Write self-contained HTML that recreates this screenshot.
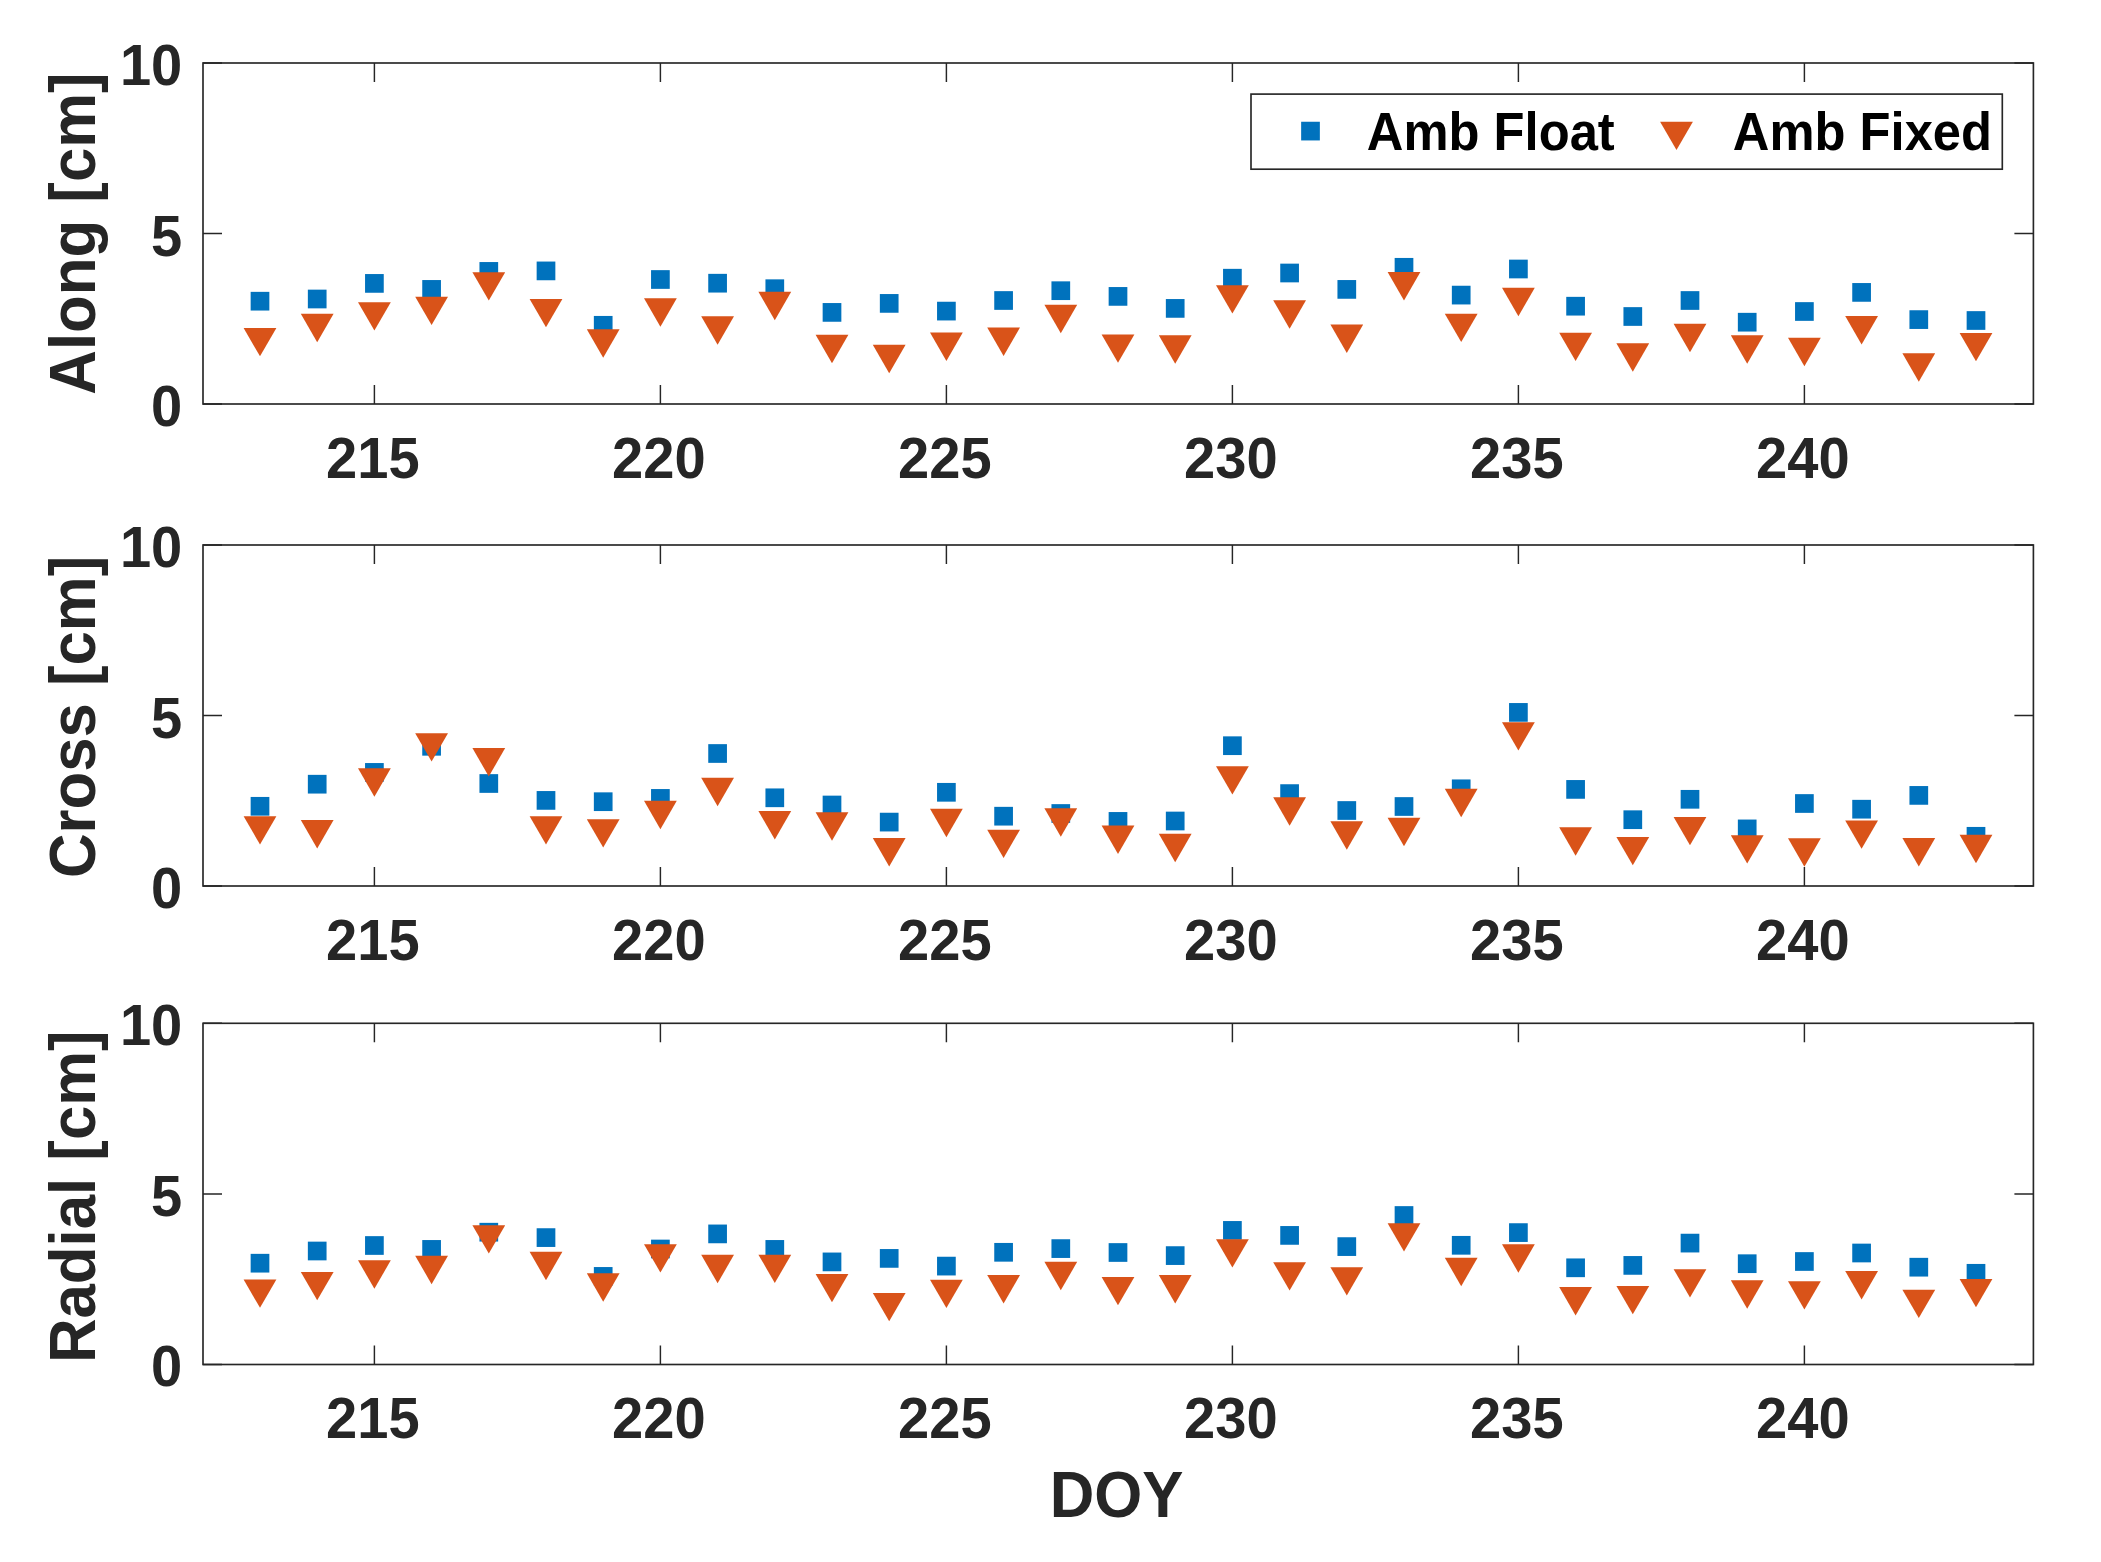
<!DOCTYPE html>
<html lang="en"><head><meta charset="utf-8"><title>Orbit differences: Amb Float vs Amb Fixed</title>
<style>
html,body{margin:0;padding:0;background:#fff;}
body{width:2101px;height:1562px;overflow:hidden;}
svg{display:block;}
text{font-family:"Liberation Sans",sans-serif;font-weight:bold;}
.t{font-size:57.60px;fill:#262626;}
.l{font-size:64.17px;fill:#262626;}
.g{font-size:52.90px;fill:#000;}
.ax{stroke:#262626;stroke-width:1.65;fill:none;shape-rendering:auto;}
.tk{stroke-width:1.45;}
.b{fill:#0072BD;}
.o{fill:#D95319;}
</style></head><body>
<svg width="2101" height="1562" viewBox="0 0 2101 1562">
<rect x="0" y="0" width="2101" height="1562" fill="#fff"/>
<g id="panel1">
<rect class="ax" x="203.00" y="63.00" width="1830.40" height="341.00"/>
<path class="ax tk" d="M374.40 404.00V385.00M374.40 63.00V82.00M660.40 404.00V385.00M660.40 63.00V82.00M946.40 404.00V385.00M946.40 63.00V82.00M1232.40 404.00V385.00M1232.40 63.00V82.00M1518.40 404.00V385.00M1518.40 63.00V82.00M1804.40 404.00V385.00M1804.40 63.00V82.00M203.00 404.00H222.00M2033.40 404.00H2014.40M203.00 233.50H222.00M2033.40 233.50H2014.40M203.00 63.00H222.00M2033.40 63.00H2014.40"/>
<g class="b">
<rect x="250.65" y="291.85" width="18.70" height="18.70"/>
<rect x="307.85" y="289.65" width="18.70" height="18.70"/>
<rect x="365.05" y="274.05" width="18.70" height="18.70"/>
<rect x="422.25" y="280.05" width="18.70" height="18.70"/>
<rect x="479.45" y="262.05" width="18.70" height="18.70"/>
<rect x="536.65" y="261.55" width="18.70" height="18.70"/>
<rect x="593.85" y="315.95" width="18.70" height="18.70"/>
<rect x="651.05" y="270.15" width="18.70" height="18.70"/>
<rect x="708.25" y="273.85" width="18.70" height="18.70"/>
<rect x="765.45" y="279.35" width="18.70" height="18.70"/>
<rect x="822.65" y="303.05" width="18.70" height="18.70"/>
<rect x="879.85" y="294.05" width="18.70" height="18.70"/>
<rect x="937.05" y="301.75" width="18.70" height="18.70"/>
<rect x="994.25" y="291.15" width="18.70" height="18.70"/>
<rect x="1051.45" y="281.35" width="18.70" height="18.70"/>
<rect x="1108.65" y="287.05" width="18.70" height="18.70"/>
<rect x="1165.85" y="299.05" width="18.70" height="18.70"/>
<rect x="1223.05" y="268.85" width="18.70" height="18.70"/>
<rect x="1280.25" y="263.65" width="18.70" height="18.70"/>
<rect x="1337.45" y="280.05" width="18.70" height="18.70"/>
<rect x="1394.65" y="257.95" width="18.70" height="18.70"/>
<rect x="1451.85" y="285.75" width="18.70" height="18.70"/>
<rect x="1509.05" y="259.65" width="18.70" height="18.70"/>
<rect x="1566.25" y="296.85" width="18.70" height="18.70"/>
<rect x="1623.45" y="307.15" width="18.70" height="18.70"/>
<rect x="1680.65" y="291.15" width="18.70" height="18.70"/>
<rect x="1737.85" y="312.85" width="18.70" height="18.70"/>
<rect x="1795.05" y="302.15" width="18.70" height="18.70"/>
<rect x="1852.25" y="283.05" width="18.70" height="18.70"/>
<rect x="1909.45" y="310.25" width="18.70" height="18.70"/>
<rect x="1966.65" y="311.15" width="18.70" height="18.70"/>
</g>
<g class="o">
<path d="M243.60 327.93h32.80l-16.40 28.40z"/>
<path d="M300.80 313.83h32.80l-16.40 28.40z"/>
<path d="M358.00 302.13h32.80l-16.40 28.40z"/>
<path d="M415.20 296.63h32.80l-16.40 28.40z"/>
<path d="M472.40 272.13h32.80l-16.40 28.40z"/>
<path d="M529.60 298.93h32.80l-16.40 28.40z"/>
<path d="M586.80 329.33h32.80l-16.40 28.40z"/>
<path d="M644.00 298.33h32.80l-16.40 28.40z"/>
<path d="M701.20 316.33h32.80l-16.40 28.40z"/>
<path d="M758.40 291.83h32.80l-16.40 28.40z"/>
<path d="M815.60 334.73h32.80l-16.40 28.40z"/>
<path d="M872.80 344.83h32.80l-16.40 28.40z"/>
<path d="M930.00 332.53h32.80l-16.40 28.40z"/>
<path d="M987.20 327.53h32.80l-16.40 28.40z"/>
<path d="M1044.40 304.73h32.80l-16.40 28.40z"/>
<path d="M1101.60 334.43h32.80l-16.40 28.40z"/>
<path d="M1158.80 335.33h32.80l-16.40 28.40z"/>
<path d="M1216.00 285.13h32.80l-16.40 28.40z"/>
<path d="M1273.20 300.23h32.80l-16.40 28.40z"/>
<path d="M1330.40 324.53h32.80l-16.40 28.40z"/>
<path d="M1387.60 272.03h32.80l-16.40 28.40z"/>
<path d="M1444.80 313.63h32.80l-16.40 28.40z"/>
<path d="M1502.00 287.83h32.80l-16.40 28.40z"/>
<path d="M1559.20 332.63h32.80l-16.40 28.40z"/>
<path d="M1616.40 343.23h32.80l-16.40 28.40z"/>
<path d="M1673.60 323.73h32.80l-16.40 28.40z"/>
<path d="M1730.80 335.33h32.80l-16.40 28.40z"/>
<path d="M1788.00 337.73h32.80l-16.40 28.40z"/>
<path d="M1845.20 316.03h32.80l-16.40 28.40z"/>
<path d="M1902.40 353.23h32.80l-16.40 28.40z"/>
<path d="M1959.60 332.93h32.80l-16.40 28.40z"/>
</g>
<text class="t" text-anchor="end" transform="translate(182.30 426.00) scale(0.9740 1)">0</text>
<text class="t" text-anchor="end" transform="translate(182.30 255.50) scale(0.9740 1)">5</text>
<text class="t" text-anchor="end" transform="translate(182.30 85.00) scale(0.9740 1)">10</text>
<text class="t" text-anchor="middle" transform="translate(372.80 478.00) scale(0.9740 1)">215</text>
<text class="t" text-anchor="middle" transform="translate(658.80 478.00) scale(0.9740 1)">220</text>
<text class="t" text-anchor="middle" transform="translate(944.80 478.00) scale(0.9740 1)">225</text>
<text class="t" text-anchor="middle" transform="translate(1230.80 478.00) scale(0.9740 1)">230</text>
<text class="t" text-anchor="middle" transform="translate(1516.80 478.00) scale(0.9740 1)">235</text>
<text class="t" text-anchor="middle" transform="translate(1802.80 478.00) scale(0.9740 1)">240</text>
<text class="l" text-anchor="middle" transform="translate(95.20 233.50) rotate(-90) scale(0.9620 1)">Along [cm]</text>
</g>
<g id="panel2">
<rect class="ax" x="203.00" y="545.00" width="1830.40" height="341.00"/>
<path class="ax tk" d="M374.40 886.00V867.00M374.40 545.00V564.00M660.40 886.00V867.00M660.40 545.00V564.00M946.40 886.00V867.00M946.40 545.00V564.00M1232.40 886.00V867.00M1232.40 545.00V564.00M1518.40 886.00V867.00M1518.40 545.00V564.00M1804.40 886.00V867.00M1804.40 545.00V564.00M203.00 886.00H222.00M2033.40 886.00H2014.40M203.00 715.50H222.00M2033.40 715.50H2014.40M203.00 545.00H222.00M2033.40 545.00H2014.40"/>
<g class="b">
<rect x="250.65" y="796.95" width="18.70" height="18.70"/>
<rect x="307.85" y="774.85" width="18.70" height="18.70"/>
<rect x="365.05" y="763.05" width="18.70" height="18.70"/>
<rect x="422.25" y="736.95" width="18.70" height="18.70"/>
<rect x="479.45" y="774.15" width="18.70" height="18.70"/>
<rect x="536.65" y="791.05" width="18.70" height="18.70"/>
<rect x="593.85" y="792.35" width="18.70" height="18.70"/>
<rect x="651.05" y="789.05" width="18.70" height="18.70"/>
<rect x="708.25" y="744.15" width="18.70" height="18.70"/>
<rect x="765.45" y="788.45" width="18.70" height="18.70"/>
<rect x="822.65" y="795.65" width="18.70" height="18.70"/>
<rect x="879.85" y="812.75" width="18.70" height="18.70"/>
<rect x="937.05" y="782.95" width="18.70" height="18.70"/>
<rect x="994.25" y="806.85" width="18.70" height="18.70"/>
<rect x="1051.45" y="804.15" width="18.70" height="18.70"/>
<rect x="1108.65" y="812.05" width="18.70" height="18.70"/>
<rect x="1165.85" y="811.65" width="18.70" height="18.70"/>
<rect x="1223.05" y="736.35" width="18.70" height="18.70"/>
<rect x="1280.25" y="784.25" width="18.70" height="18.70"/>
<rect x="1337.45" y="801.15" width="18.70" height="18.70"/>
<rect x="1394.65" y="797.15" width="18.70" height="18.70"/>
<rect x="1451.85" y="779.45" width="18.70" height="18.70"/>
<rect x="1509.05" y="703.05" width="18.70" height="18.70"/>
<rect x="1566.25" y="780.05" width="18.70" height="18.70"/>
<rect x="1623.45" y="810.35" width="18.70" height="18.70"/>
<rect x="1680.65" y="789.95" width="18.70" height="18.70"/>
<rect x="1737.85" y="819.55" width="18.70" height="18.70"/>
<rect x="1795.05" y="794.15" width="18.70" height="18.70"/>
<rect x="1852.25" y="799.85" width="18.70" height="18.70"/>
<rect x="1909.45" y="786.05" width="18.70" height="18.70"/>
<rect x="1966.65" y="826.95" width="18.70" height="18.70"/>
</g>
<g class="o">
<path d="M243.60 816.13h32.80l-16.40 28.40z"/>
<path d="M300.80 820.03h32.80l-16.40 28.40z"/>
<path d="M358.00 768.33h32.80l-16.40 28.40z"/>
<path d="M415.20 733.13h32.80l-16.40 28.40z"/>
<path d="M472.40 748.03h32.80l-16.40 28.40z"/>
<path d="M529.60 816.13h32.80l-16.40 28.40z"/>
<path d="M586.80 819.13h32.80l-16.40 28.40z"/>
<path d="M644.00 800.73h32.80l-16.40 28.40z"/>
<path d="M701.20 777.73h32.80l-16.40 28.40z"/>
<path d="M758.40 811.03h32.80l-16.40 28.40z"/>
<path d="M815.60 812.33h32.80l-16.40 28.40z"/>
<path d="M872.80 838.03h32.80l-16.40 28.40z"/>
<path d="M930.00 808.83h32.80l-16.40 28.40z"/>
<path d="M987.20 829.63h32.80l-16.40 28.40z"/>
<path d="M1044.40 808.23h32.80l-16.40 28.40z"/>
<path d="M1101.60 825.53h32.80l-16.40 28.40z"/>
<path d="M1158.80 833.83h32.80l-16.40 28.40z"/>
<path d="M1216.00 766.13h32.80l-16.40 28.40z"/>
<path d="M1273.20 797.23h32.80l-16.40 28.40z"/>
<path d="M1330.40 821.33h32.80l-16.40 28.40z"/>
<path d="M1387.60 817.83h32.80l-16.40 28.40z"/>
<path d="M1444.80 788.73h32.80l-16.40 28.40z"/>
<path d="M1502.00 722.13h32.80l-16.40 28.40z"/>
<path d="M1559.20 827.23h32.80l-16.40 28.40z"/>
<path d="M1616.40 836.93h32.80l-16.40 28.40z"/>
<path d="M1673.60 816.93h32.80l-16.40 28.40z"/>
<path d="M1730.80 835.13h32.80l-16.40 28.40z"/>
<path d="M1788.00 838.23h32.80l-16.40 28.40z"/>
<path d="M1845.20 820.43h32.80l-16.40 28.40z"/>
<path d="M1902.40 838.03h32.80l-16.40 28.40z"/>
<path d="M1959.60 834.73h32.80l-16.40 28.40z"/>
</g>
<text class="t" text-anchor="end" transform="translate(182.30 908.00) scale(0.9740 1)">0</text>
<text class="t" text-anchor="end" transform="translate(182.30 737.50) scale(0.9740 1)">5</text>
<text class="t" text-anchor="end" transform="translate(182.30 567.00) scale(0.9740 1)">10</text>
<text class="t" text-anchor="middle" transform="translate(372.80 960.00) scale(0.9740 1)">215</text>
<text class="t" text-anchor="middle" transform="translate(658.80 960.00) scale(0.9740 1)">220</text>
<text class="t" text-anchor="middle" transform="translate(944.80 960.00) scale(0.9740 1)">225</text>
<text class="t" text-anchor="middle" transform="translate(1230.80 960.00) scale(0.9740 1)">230</text>
<text class="t" text-anchor="middle" transform="translate(1516.80 960.00) scale(0.9740 1)">235</text>
<text class="t" text-anchor="middle" transform="translate(1802.80 960.00) scale(0.9740 1)">240</text>
<text class="l" text-anchor="middle" transform="translate(95.20 716.90) rotate(-90) scale(0.9620 1)">Cross [cm]</text>
</g>
<g id="panel3">
<rect class="ax" x="203.00" y="1023.30" width="1830.40" height="341.20"/>
<path class="ax tk" d="M374.40 1364.50V1345.50M374.40 1023.30V1042.30M660.40 1364.50V1345.50M660.40 1023.30V1042.30M946.40 1364.50V1345.50M946.40 1023.30V1042.30M1232.40 1364.50V1345.50M1232.40 1023.30V1042.30M1518.40 1364.50V1345.50M1518.40 1023.30V1042.30M1804.40 1364.50V1345.50M1804.40 1023.30V1042.30M203.00 1364.50H222.00M2033.40 1364.50H2014.40M203.00 1193.90H222.00M2033.40 1193.90H2014.40M203.00 1023.30H222.00M2033.40 1023.30H2014.40"/>
<g class="b">
<rect x="250.65" y="1253.85" width="18.70" height="18.70"/>
<rect x="307.85" y="1241.65" width="18.70" height="18.70"/>
<rect x="365.05" y="1236.15" width="18.70" height="18.70"/>
<rect x="422.25" y="1240.05" width="18.70" height="18.70"/>
<rect x="479.45" y="1222.85" width="18.70" height="18.70"/>
<rect x="536.65" y="1228.25" width="18.70" height="18.70"/>
<rect x="593.85" y="1267.05" width="18.70" height="18.70"/>
<rect x="651.05" y="1239.65" width="18.70" height="18.70"/>
<rect x="708.25" y="1224.55" width="18.70" height="18.70"/>
<rect x="765.45" y="1240.05" width="18.70" height="18.70"/>
<rect x="822.65" y="1252.55" width="18.70" height="18.70"/>
<rect x="879.85" y="1249.05" width="18.70" height="18.70"/>
<rect x="937.05" y="1256.75" width="18.70" height="18.70"/>
<rect x="994.25" y="1242.95" width="18.70" height="18.70"/>
<rect x="1051.45" y="1239.25" width="18.70" height="18.70"/>
<rect x="1108.65" y="1243.15" width="18.70" height="18.70"/>
<rect x="1165.85" y="1246.25" width="18.70" height="18.70"/>
<rect x="1223.05" y="1221.05" width="18.70" height="18.70"/>
<rect x="1280.25" y="1226.05" width="18.70" height="18.70"/>
<rect x="1337.45" y="1237.25" width="18.70" height="18.70"/>
<rect x="1394.65" y="1206.15" width="18.70" height="18.70"/>
<rect x="1451.85" y="1235.95" width="18.70" height="18.70"/>
<rect x="1509.05" y="1223.25" width="18.70" height="18.70"/>
<rect x="1566.25" y="1258.45" width="18.70" height="18.70"/>
<rect x="1623.45" y="1256.05" width="18.70" height="18.70"/>
<rect x="1680.65" y="1233.75" width="18.70" height="18.70"/>
<rect x="1737.85" y="1254.35" width="18.70" height="18.70"/>
<rect x="1795.05" y="1252.15" width="18.70" height="18.70"/>
<rect x="1852.25" y="1243.65" width="18.70" height="18.70"/>
<rect x="1909.45" y="1257.85" width="18.70" height="18.70"/>
<rect x="1966.65" y="1263.95" width="18.70" height="18.70"/>
</g>
<g class="o">
<path d="M243.60 1279.43h32.80l-16.40 28.40z"/>
<path d="M300.80 1271.93h32.80l-16.40 28.40z"/>
<path d="M358.00 1260.33h32.80l-16.40 28.40z"/>
<path d="M415.20 1255.73h32.80l-16.40 28.40z"/>
<path d="M472.40 1225.13h32.80l-16.40 28.40z"/>
<path d="M529.60 1251.83h32.80l-16.40 28.40z"/>
<path d="M586.80 1273.23h32.80l-16.40 28.40z"/>
<path d="M644.00 1244.13h32.80l-16.40 28.40z"/>
<path d="M701.20 1254.83h32.80l-16.40 28.40z"/>
<path d="M758.40 1254.63h32.80l-16.40 28.40z"/>
<path d="M815.60 1273.93h32.80l-16.40 28.40z"/>
<path d="M872.80 1292.93h32.80l-16.40 28.40z"/>
<path d="M930.00 1279.63h32.80l-16.40 28.40z"/>
<path d="M987.20 1275.03h32.80l-16.40 28.40z"/>
<path d="M1044.40 1261.83h32.80l-16.40 28.40z"/>
<path d="M1101.60 1276.93h32.80l-16.40 28.40z"/>
<path d="M1158.80 1275.03h32.80l-16.40 28.40z"/>
<path d="M1216.00 1239.13h32.80l-16.40 28.40z"/>
<path d="M1273.20 1262.13h32.80l-16.40 28.40z"/>
<path d="M1330.40 1267.13h32.80l-16.40 28.40z"/>
<path d="M1387.60 1223.13h32.80l-16.40 28.40z"/>
<path d="M1444.80 1257.73h32.80l-16.40 28.40z"/>
<path d="M1502.00 1244.33h32.80l-16.40 28.40z"/>
<path d="M1559.20 1287.03h32.80l-16.40 28.40z"/>
<path d="M1616.40 1285.93h32.80l-16.40 28.40z"/>
<path d="M1673.60 1269.13h32.80l-16.40 28.40z"/>
<path d="M1730.80 1280.23h32.80l-16.40 28.40z"/>
<path d="M1788.00 1281.13h32.80l-16.40 28.40z"/>
<path d="M1845.20 1271.03h32.80l-16.40 28.40z"/>
<path d="M1902.40 1289.63h32.80l-16.40 28.40z"/>
<path d="M1959.60 1278.93h32.80l-16.40 28.40z"/>
</g>
<text class="t" text-anchor="end" transform="translate(182.30 1386.00) scale(0.9740 1)">0</text>
<text class="t" text-anchor="end" transform="translate(182.30 1215.50) scale(0.9740 1)">5</text>
<text class="t" text-anchor="end" transform="translate(182.30 1045.00) scale(0.9740 1)">10</text>
<text class="t" text-anchor="middle" transform="translate(372.80 1438.00) scale(0.9740 1)">215</text>
<text class="t" text-anchor="middle" transform="translate(658.80 1438.00) scale(0.9740 1)">220</text>
<text class="t" text-anchor="middle" transform="translate(944.80 1438.00) scale(0.9740 1)">225</text>
<text class="t" text-anchor="middle" transform="translate(1230.80 1438.00) scale(0.9740 1)">230</text>
<text class="t" text-anchor="middle" transform="translate(1516.80 1438.00) scale(0.9740 1)">235</text>
<text class="t" text-anchor="middle" transform="translate(1802.80 1438.00) scale(0.9740 1)">240</text>
<text class="l" text-anchor="middle" transform="translate(95.20 1196.70) rotate(-90) scale(0.9620 1)">Radial [cm]</text>
</g>
<text class="l" text-anchor="middle" transform="translate(1116.60 1517.00) scale(0.9620 1)">DOY</text>
<g id="legend">
<rect x="1251.00" y="94.10" width="751.30" height="75.10" fill="#fff" stroke="#262626" stroke-width="1.65"/>
<rect class="b" x="1301.15" y="121.75" width="18.70" height="18.70"/>
<text class="g" text-anchor="start" transform="translate(1366.80 150.40) scale(0.9590 1)">Amb Float</text>
<path class="o" d="M1660.10 121.63h32.80l-16.40 28.40z"/>
<text class="g" text-anchor="start" transform="translate(1732.80 150.40) scale(0.9590 1)">Amb Fixed</text>
</g>
</svg>
</body></html>
